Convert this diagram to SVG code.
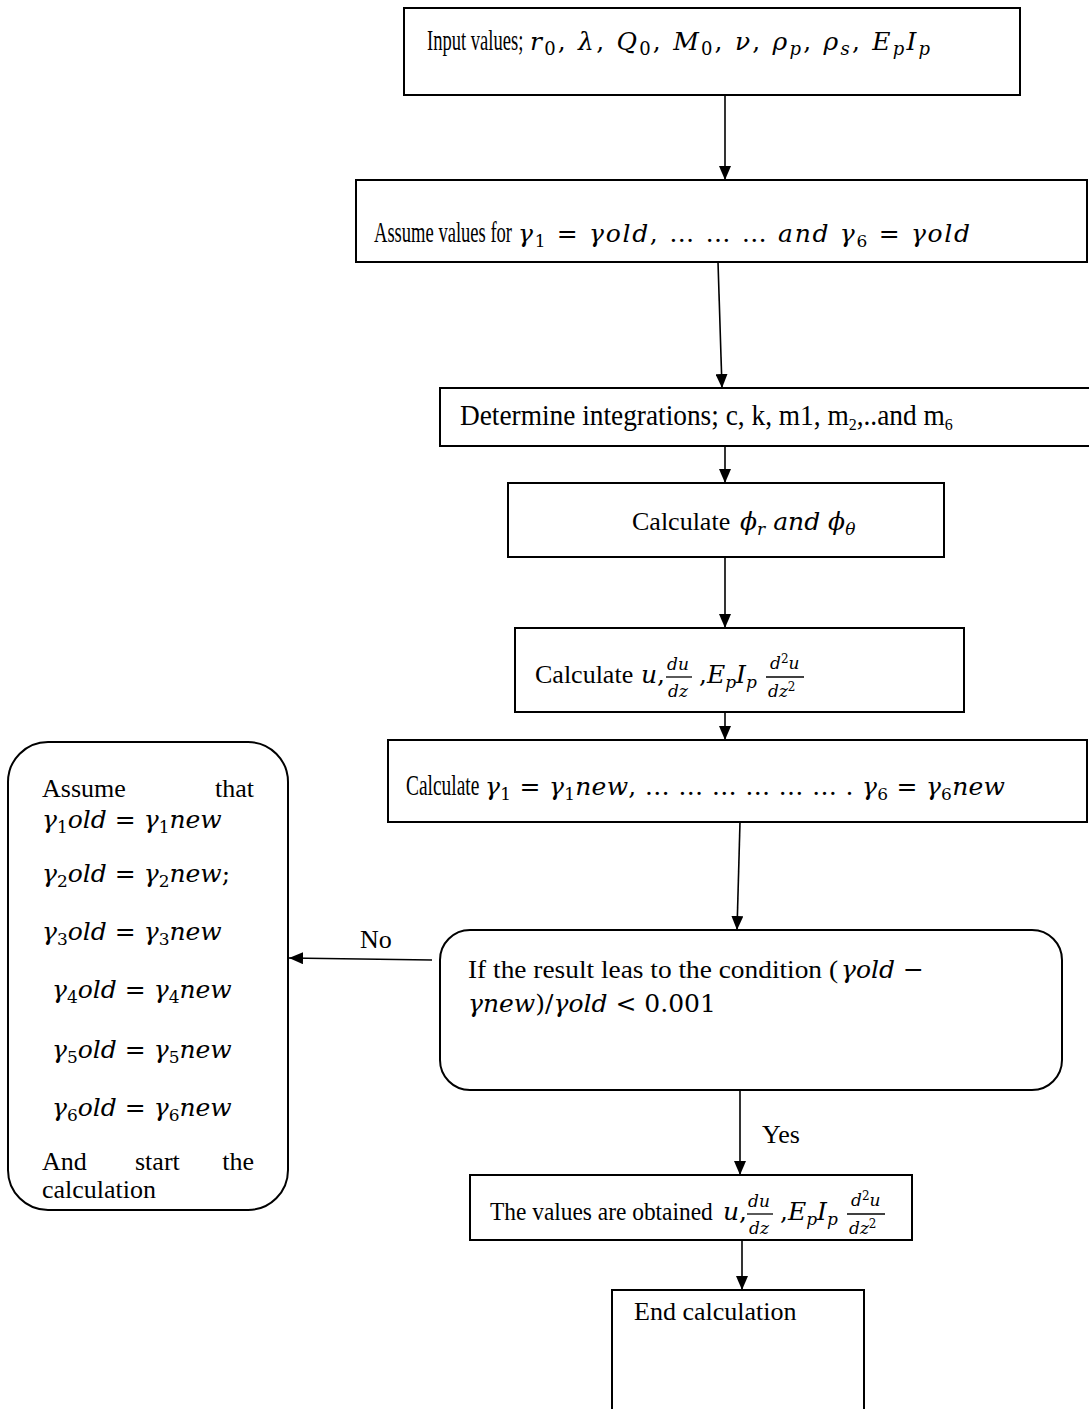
<svg xmlns="http://www.w3.org/2000/svg" width="1089" height="1409" viewBox="0 0 1089 1409">
<style>
.box{fill:#fff;stroke:#000;stroke-width:2}
.ln{stroke:#000;stroke-width:1.6;fill:none}
.t{font-family:"Liberation Serif","Times New Roman",serif;font-size:26px;fill:#000}
.c{font-family:"Liberation Serif","Times New Roman",serif;font-size:29px;fill:#000}
.m{font-family:"DejaVu Serif","Liberation Serif",serif;font-style:italic;font-size:25px;fill:#000}
.f{font-family:"DejaVu Serif","Liberation Serif",serif;font-style:italic;font-size:17px;fill:#000}
.up{font-style:normal}
</style>
<defs>
<marker id="a" viewBox="0 0 14 12" refX="14" refY="6" markerWidth="14" markerHeight="12" markerUnits="userSpaceOnUse" orient="auto"><path d="M0,0 L14,6 L0,12 Z" fill="#000"/></marker>
</defs>
<rect width="1089" height="1409" fill="#fff"/>
<g id="connectors">
<line class="ln" x1="725" y1="95" x2="725" y2="180" marker-end="url(#a)"/>
<line class="ln" x1="718" y1="262" x2="722" y2="388" marker-end="url(#a)"/>
<line class="ln" x1="725" y1="446" x2="725" y2="483" marker-end="url(#a)"/>
<line class="ln" x1="725" y1="557" x2="725" y2="628" marker-end="url(#a)"/>
<line class="ln" x1="725" y1="712" x2="725" y2="740" marker-end="url(#a)"/>
<line class="ln" x1="740" y1="822" x2="737" y2="930" marker-end="url(#a)"/>
<line class="ln" x1="432" y1="960" x2="289" y2="958" marker-end="url(#a)"/>
<line class="ln" x1="740" y1="1090" x2="740" y2="1175" marker-end="url(#a)"/>
<line class="ln" x1="742" y1="1240" x2="742" y2="1290" marker-end="url(#a)"/>
<text class="t" x="360" y="948">No</text>
<text class="t" x="762" y="1143">Yes</text>
</g>
<g id="n1">
<rect class="box" x="404" y="8" width="616" height="87"/>
<text class="c" transform="translate(427 50) scale(0.64 1)">Input values;</text>
<text class="m" x="530" y="50" font-size="29" textLength="400">r<tspan class="up" dy="5" font-size="18">0</tspan><tspan class="up" dy="-5">, </tspan>λ<tspan class="up">, </tspan>Q<tspan class="up" dy="5" font-size="18">0</tspan><tspan class="up" dy="-5">, </tspan>M<tspan class="up" dy="5" font-size="18">0</tspan><tspan class="up" dy="-5">, </tspan>ν<tspan class="up">, </tspan>ρ<tspan dy="5" font-size="18">p</tspan><tspan class="up" dy="-5">, </tspan>ρ<tspan dy="5" font-size="18">s</tspan><tspan class="up" dy="-5">, </tspan>E<tspan dy="5" font-size="18">p</tspan><tspan dy="-5">I</tspan><tspan dy="5" font-size="18">p</tspan></text>
</g>
<g id="n2">
<rect class="box" x="356" y="180" width="731" height="82"/>
<text class="c" transform="translate(374 242) scale(0.64 1)">Assume values for</text>
<text class="m" x="518" y="242" textLength="452">γ<tspan class="up" dy="5" font-size="17">1</tspan><tspan class="up" dy="-5"> = </tspan>γold<tspan class="up">, … … … </tspan>and γ<tspan class="up" dy="5" font-size="17">6</tspan><tspan class="up" dy="-5"> = </tspan>γold</text>
</g>
<g id="n3">
<rect class="box" x="440" y="388" width="660" height="58"/>
<text class="c" transform="translate(460 425) scale(0.943 1)">Determine integrations; c, k, m1, m<tspan dy="5" font-size="17">2</tspan><tspan dy="-5">,..and m</tspan><tspan dy="5" font-size="17">6</tspan></text>
</g>
<g id="n4">
<rect class="box" x="508" y="483" width="436" height="74"/>
<text class="t" x="632" y="530">Calculate</text>
<text class="m" x="740" y="530">ϕ<tspan dy="5" font-size="17">r</tspan><tspan dy="-5"> and ϕ</tspan><tspan dy="5" font-size="17">θ</tspan></text>
</g>
<g id="n5">
<rect class="box" x="515" y="628" width="449" height="84"/>
<text class="t" x="535" y="683">Calculate</text>
<text class="m" x="641" y="683">u<tspan class="up">,</tspan></text>
<text class="f" x="667" y="670">du</text>
<line x1="666" y1="677" x2="692" y2="677" stroke="#000" stroke-width="1.3"/>
<text class="f" x="668" y="697">dz</text>
<text class="m" x="699" y="683"><tspan class="up">,</tspan>E<tspan dy="5" font-size="17">p</tspan><tspan dy="-5">I</tspan><tspan dy="5" font-size="17">p</tspan></text>
<text class="f" x="770" y="669">d<tspan dy="-6" font-size="12" class="up">2</tspan><tspan dy="6">u</tspan></text>
<line x1="766" y1="677" x2="804" y2="677" stroke="#000" stroke-width="1.3"/>
<text class="f" x="768" y="697">dz<tspan dy="-6" font-size="12" class="up">2</tspan></text>
</g>
<g id="n6">
<rect class="box" x="388" y="740" width="699" height="82"/>
<text class="c" transform="translate(406 795) scale(0.67 1)">Calculate</text>
<text class="m" x="485" y="795" textLength="520">γ<tspan class="up" dy="5" font-size="17">1</tspan><tspan class="up" dy="-5"> = </tspan>γ<tspan class="up" dy="5" font-size="17">1</tspan><tspan dy="-5">new</tspan><tspan class="up">, … … … … … … . </tspan>γ<tspan class="up" dy="5" font-size="17">6</tspan><tspan class="up" dy="-5"> = </tspan>γ<tspan class="up" dy="5" font-size="17">6</tspan><tspan dy="-5">new</tspan></text>
</g>
<g id="n7">
<rect class="box" x="440" y="930" width="622" height="160" rx="30" ry="30"/>
<text class="t" x="468" y="978" textLength="370" lengthAdjust="spacingAndGlyphs">If the result leas to the condition (</text>
<text class="m" x="841" y="978">γold <tspan class="up">−</tspan></text>
<text class="m" x="468" y="1012">γnew<tspan class="up">)/</tspan>γold <tspan class="up">&lt; 0.001</tspan></text>
</g>
<g id="n8">
<rect class="box" x="8" y="742" width="280" height="468" rx="40" ry="40"/>
<text class="t" x="42" y="797">Assume</text>
<text class="t" x="254" y="797" text-anchor="end">that</text>
<text class="m" x="42" y="828">γ<tspan class="up" dy="5" font-size="17">1</tspan><tspan dy="-5">old </tspan><tspan class="up">= </tspan>γ<tspan class="up" dy="5" font-size="17">1</tspan><tspan dy="-5">new</tspan></text>
<text class="m" x="42" y="882">γ<tspan class="up" dy="5" font-size="17">2</tspan><tspan dy="-5">old </tspan><tspan class="up">= </tspan>γ<tspan class="up" dy="5" font-size="17">2</tspan><tspan dy="-5">new</tspan><tspan class="up">;</tspan></text>
<text class="m" x="42" y="940">γ<tspan class="up" dy="5" font-size="17">3</tspan><tspan dy="-5">old </tspan><tspan class="up">= </tspan>γ<tspan class="up" dy="5" font-size="17">3</tspan><tspan dy="-5">new</tspan></text>
<text class="m" x="52" y="998">γ<tspan class="up" dy="5" font-size="17">4</tspan><tspan dy="-5">old </tspan><tspan class="up">= </tspan>γ<tspan class="up" dy="5" font-size="17">4</tspan><tspan dy="-5">new</tspan></text>
<text class="m" x="52" y="1058">γ<tspan class="up" dy="5" font-size="17">5</tspan><tspan dy="-5">old </tspan><tspan class="up">= </tspan>γ<tspan class="up" dy="5" font-size="17">5</tspan><tspan dy="-5">new</tspan></text>
<text class="m" x="52" y="1116">γ<tspan class="up" dy="5" font-size="17">6</tspan><tspan dy="-5">old </tspan><tspan class="up">= </tspan>γ<tspan class="up" dy="5" font-size="17">6</tspan><tspan dy="-5">new</tspan></text>
<text class="t" x="42" y="1170">And</text>
<text class="t" x="135" y="1170">start</text>
<text class="t" x="254" y="1170" text-anchor="end">the</text>
<text class="t" x="42" y="1198">calculation</text>
</g>
<g id="n9">
<rect class="box" x="470" y="1175" width="442" height="65"/>
<text class="t" transform="translate(490 1220) scale(0.9 1)">The values are obtained</text>
<text class="m" x="723" y="1220">u<tspan class="up">,</tspan></text>
<text class="f" x="748" y="1207">du</text>
<line x1="747" y1="1214" x2="773" y2="1214" stroke="#000" stroke-width="1.3"/>
<text class="f" x="749" y="1234">dz</text>
<text class="m" x="780" y="1220"><tspan class="up">,</tspan>E<tspan dy="5" font-size="17">p</tspan><tspan dy="-5">I</tspan><tspan dy="5" font-size="17">p</tspan></text>
<text class="f" x="851" y="1206">d<tspan dy="-6" font-size="12" class="up">2</tspan><tspan dy="6">u</tspan></text>
<line x1="847" y1="1214" x2="885" y2="1214" stroke="#000" stroke-width="1.3"/>
<text class="f" x="849" y="1234">dz<tspan dy="-6" font-size="12" class="up">2</tspan></text>
</g>
<g id="n10">
<rect class="box" x="612" y="1290" width="252" height="130"/>
<text class="t" x="634" y="1320">End calculation</text>
</g>
</svg>
